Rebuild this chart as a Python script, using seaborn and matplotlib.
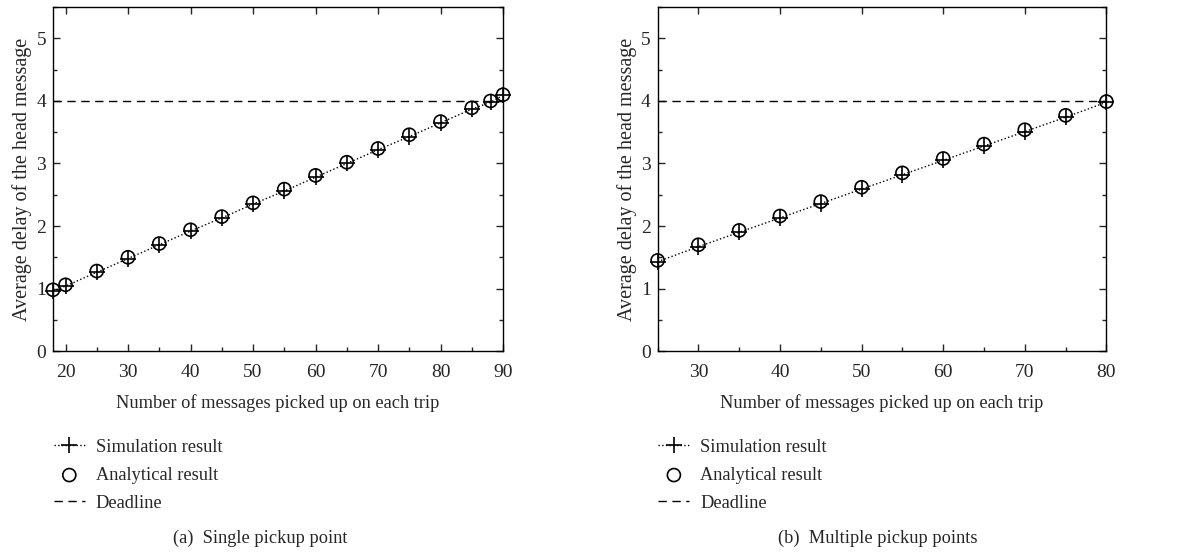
import numpy as np
import pandas as pd
import matplotlib
matplotlib.use('Agg')
import matplotlib.pyplot as plt
import seaborn as sns
from matplotlib.ticker import MultipleLocator

# (a) single pickup point
x_a = [18, 20, 25, 30, 35, 40, 45, 50, 55, 60, 65, 70, 75, 80, 85, 88, 90]
sim_a = [0.96, 1.04, 1.26, 1.48, 1.70, 1.92, 2.13, 2.35, 2.56, 2.78, 3.00, 3.22, 3.43, 3.65, 3.87, 3.98, 4.09]
ana_a = [0.98, 1.06, 1.28, 1.50, 1.72, 1.94, 2.15, 2.37, 2.59, 2.81, 3.02, 3.24, 3.46, 3.67, 3.89, 4.00, 4.10]

# (b) multiple pickup points
x_b = [25, 30, 35, 40, 45, 50, 55, 60, 65, 70, 75, 80]
sim_b = [1.43, 1.67, 1.90, 2.13, 2.36, 2.59, 2.82, 3.05, 3.28, 3.51, 3.74, 3.98]
ana_b = [1.45, 1.70, 1.93, 2.16, 2.39, 2.62, 2.85, 3.08, 3.31, 3.54, 3.77, 3.99]

deadline = 4
xlims = [(18, 90), (25, 80)]
xticks = [[20, 30, 40, 50, 60, 70, 80, 90], [30, 40, 50, 60, 70, 80]]
captions = ['(a)  Single pickup point', '(b)  Multiple pickup points']
caption_x = [0.46, 0.49]

sns.set_style('ticks')
plt.rcParams['font.family'] = ['Liberation Serif', 'DejaVu Serif']
plt.rcParams['axes.linewidth'] = 1.0
fs = 13.2

fig = plt.figure(figsize=(12, 5.52), dpi=100)
axes = [fig.add_axes([0.0442, 0.364, 0.375, 0.623]),
        fig.add_axes([0.548, 0.364, 0.374, 0.623])]

panels = [(x_a, sim_a, ana_a), (x_b, sim_b, ana_b)]
for i, (ax, (xs, sim, ana)) in enumerate(zip(axes, panels)):
    df = pd.DataFrame({'x': xs, 'sim': sim, 'ana': ana})
    ax.axhline(deadline, color='black', lw=1.0, ls=(0, (6, 4)), label='Deadline', zorder=1)
    sns.lineplot(data=df, x='x', y='sim', ax=ax, color='black', lw=1.0,
                 linestyle=':', marker='+', markersize=12, markeredgewidth=1.2,
                 markeredgecolor='black', label='Simulation result', zorder=3, clip_on=False)
    sns.scatterplot(data=df, x='x', y='ana', ax=ax, marker='o', s=88,
                    facecolors='none', edgecolors='black', linewidth=1.2,
                    label='Analytical result', zorder=4, clip_on=False)
    ax.set_xlim(*xlims[i])
    ax.set_ylim(0, 5.5)
    ax.set_xticks(xticks[i])
    ax.xaxis.set_minor_locator(MultipleLocator(5))
    ax.set_yticks([0, 1, 2, 3, 4, 5])
    ax.yaxis.set_minor_locator(MultipleLocator(0.5))
    ax.tick_params(which='both', direction='in', top=True, right=True, labelsize=14)
    ax.tick_params(which='minor', top=False)
    ax.tick_params(which='major', length=5, width=1.0, pad=5)
    ax.tick_params(which='minor', length=3, width=1.0)
    ax.tick_params(axis='x', which='major', pad=9)
    ax.set_xlabel('Number of messages picked up on each trip', fontsize=fs, labelpad=10)
    ax.set_ylabel('Average delay of the head message', fontsize=14.5, labelpad=3)
    for sp in ax.spines.values():
        sp.set_visible(True)
        sp.set_color('black')

    handles, labels = ax.get_legend_handles_labels()
    order = [labels.index('Simulation result'), labels.index('Analytical result'), labels.index('Deadline')]
    ax.legend([handles[k] for k in order], [labels[k] for k in order],
              loc='upper left', bbox_to_anchor=(-0.027, -0.218), frameon=False,
              handlelength=1.7, handletextpad=0.6, labelspacing=0.6, fontsize=fs,
              borderpad=0.2)
    ax.text(caption_x[i], -0.545, captions[i], transform=ax.transAxes, ha='center', va='center', fontsize=fs)

fig.savefig('out.png', dpi=100)
